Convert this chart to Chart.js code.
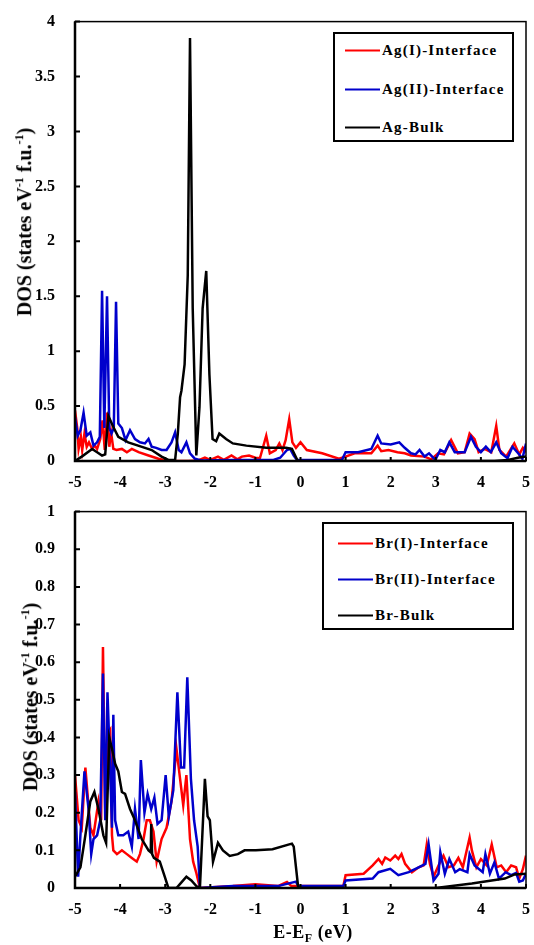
<!DOCTYPE html>
<html>
<head>
<meta charset="utf-8">
<script src="https://cdn.jsdelivr.net/npm/chart.js@4.4.1/dist/chart.umd.min.js"></script>
<style>
  body { margin: 0; background: #fff; width: 534px; height: 945px; overflow: hidden; position: relative; font-family: "Liberation Serif", "Times New Roman", serif; }
  .wrap { position: absolute; left: 0; width: 534px; }
  .ytitle { position: absolute; transform: translate(-50%, -50%) rotate(-90deg); white-space: nowrap; font-weight: bold; font-size: 20px; color: #000; }
  .ytitle sup, .xtitle sub { font-size: 12px; }
  .xtitle { position: absolute; transform: translate(-50%, -50%); white-space: nowrap; font-weight: bold; font-size: 18px; letter-spacing: 0.5px; }
  .legend { position: absolute; border: 2px solid #000; background: #fff; box-sizing: border-box; }
  .row { position: absolute; left: 0; display: flex; align-items: center; font-weight: bold; font-size: 15px; letter-spacing: 1.2px; white-space: nowrap; transform: translateY(-50%); }
  .row i { display: inline-block; width: 35px; height: 2px; margin-right: 2px; }
</style>
</head>
<body>
<div class="wrap" style="top:0;height:490px"><canvas id="agChart" width="534" height="490"></canvas></div>
<div class="wrap" style="top:490px;height:455px"><canvas id="brChart" width="534" height="455"></canvas></div>

<div class="ytitle" style="left:24px;top:222px">DOS (states eV<sup>-1</sup> f.u.<sup>-1</sup>)</div>
<div class="ytitle" style="left:30px;top:697px">DOS (states eV<sup>-1</sup> f.u.<sup>-1</sup>)</div>
<div class="xtitle" style="left:313px;top:934px">E-E<sub>F</sub> (eV)</div>

<div class="legend" style="left:333px;top:32px;width:181px;height:110px">
  <div class="row" style="top:16px;left:10px"><i style="background:#ff0000"></i>Ag(I)-Interface</div>
  <div class="row" style="top:55px;left:10px"><i style="background:#0000cc"></i>Ag(II)-Interface</div>
  <div class="row" style="top:93px;left:10px"><i style="background:#000"></i>Ag-Bulk</div>
</div>
<div class="legend" style="left:322px;top:522px;width:192px;height:108px">
  <div class="row" style="top:19px;left:14px"><i style="background:#ff0000"></i>Br(I)-Interface</div>
  <div class="row" style="top:55px;left:14px"><i style="background:#0000cc"></i>Br(II)-Interface</div>
  <div class="row" style="top:91px;left:14px"><i style="background:#000"></i>Br-Bulk</div>
</div>

<script>
// tick values
const xTicks = [-5, -4, -3, -2, -1, 0, 1, 2, 3, 4, 5];
const yTicksAg = [0, 0.5, 1, 1.5, 2, 2.5, 3, 3.5, 4];
const yTicksBr = [0, 0.1, 0.2, 0.3, 0.4, 0.5, 0.6, 0.7, 0.8, 0.9, 1];

// Ag panel
const agIE = [-5, -4.95, -4.92, -4.87, -4.84, -4.79, -4.74, -4.69, -4.62, -4.56, -4.51, -4.44, -4.39, -4.34, -4.29, -4.24, -4.2, -4.15, -4.08, -3.96, -3.85, -3.74, -3.59, -3.37, -3.15, -2.93, -2.49, -2.27, -2.12, -2.0, -1.83, -1.7, -1.53, -1.4, -1.3, -1.14, -1.0, -0.9, -0.76, -0.68, -0.55, -0.47, -0.4, -0.33, -0.25, -0.18, -0.1, 0.0, 0.14, 0.48, 0.85, 1.0, 1.2, 1.57, 1.71, 1.79, 1.95, 2.15, 2.31, 2.45, 2.6, 2.75, 2.9, 3.05, 3.18, 3.34, 3.49, 3.64, 3.75, 3.86, 3.95, 4.08, 4.23, 4.34, 4.41, 4.56, 4.74, 4.85, 4.93, 5];
const agIDos = [0.46, 0.3, 0.11, 0.22, 0.1, 0.25, 0.13, 0.17, 0.11, 0.14, 0.11, 0.2, 0.37, 0.1, 0.44, 0.13, 0.26, 0.11, 0.1, 0.11, 0.08, 0.11, 0.08, 0.05, 0.02, 0.0, 0.0, 0.005, 0.03, 0.01, 0.04, 0.01, 0.05, 0.015, 0.04, 0.05, 0.03, 0.025, 0.23, 0.07, 0.1, 0.16, 0.1, 0.19, 0.38, 0.17, 0.12, 0.17, 0.1, 0.07, 0.02, 0.04, 0.07, 0.07, 0.14, 0.09, 0.1, 0.08, 0.07, 0.05, 0.045, 0.04, 0.015, 0.07, 0.06, 0.19, 0.07, 0.08, 0.25, 0.2, 0.08, 0.11, 0.08, 0.32, 0.1, 0.04, 0.16, 0.06, 0.12, 0.08];

const agIIE = [-5, -4.94, -4.88, -4.81, -4.74, -4.66, -4.59, -4.51, -4.45, -4.4, -4.35, -4.29, -4.24, -4.19, -4.14, -4.09, -4.04, -3.96, -3.88, -3.78, -3.67, -3.56, -3.45, -3.37, -3.3, -3.2, -3.08, -2.97, -2.86, -2.78, -2.7, -2.64, -2.53, -2.45, -2.34, -2.2, -1.5, -0.6, -0.45, -0.3, -0.23, -0.15, -0.08, 0.5, 0.92, 1.0, 1.28, 1.57, 1.71, 1.79, 2.0, 2.19, 2.31, 2.45, 2.55, 2.64, 2.75, 2.85, 2.99, 3.1, 3.2, 3.3, 3.42, 3.64, 3.78, 3.89, 4.0, 4.11, 4.22, 4.34, 4.45, 4.59, 4.7, 4.85, 4.92, 5];
const agIIDos = [0.4, 0.23, 0.28, 0.44, 0.23, 0.26, 0.14, 0.17, 0.22, 1.55, 0.3, 1.5, 0.3, 0.25, 0.3, 1.45, 0.34, 0.3, 0.19, 0.28, 0.2, 0.17, 0.16, 0.2, 0.13, 0.12, 0.1, 0.1, 0.17, 0.26, 0.1, 0.08, 0.17, 0.07, 0.02, 0.005, 0.01, 0.01, 0.03, 0.1, 0.11, 0.05, 0.01, 0.01, 0.01, 0.08, 0.08, 0.11, 0.23, 0.16, 0.15, 0.17, 0.12, 0.07, 0.06, 0.1, 0.04, 0.07, 0.01, 0.1, 0.08, 0.17, 0.08, 0.08, 0.22, 0.13, 0.08, 0.13, 0.08, 0.17, 0.07, 0.025, 0.13, 0.06, 0.02, 0.16];

const agBulkE = [-5, -4.85, -4.62, -4.51, -4.4, -4.33, -4.26, -4.15, -4.04, -3.82, -3.6, -3.3, -3.08, -2.93, -2.78, -2.72, -2.67, -2.64, -2.57, -2.5, -2.45, -2.39, -2.31, -2.24, -2.17, -2.09, -2.02, -1.95, -1.87, -1.8, -1.65, -1.5, -1.2, -0.76, -0.32, -0.19, -0.06, 0.0, 4.3, 4.6, 4.82, 5];
const agBulkDos = [0, 0.04, 0.11, 0.08, 0.05, 0.06, 0.41, 0.31, 0.22, 0.17, 0.14, 0.1, 0.04, 0.01, 0.01, 0.25, 0.58, 0.64, 0.88, 1.69, 3.85, 1.39, 0.05, 0.49, 1.39, 1.73, 0.79, 0.2, 0.18, 0.25, 0.2, 0.16, 0.14, 0.12, 0.12, 0.11, 0.0, 0.0, 0.0, 0.01, 0.03, 0.04];

// Br panel
const brIE = [-5, -4.92, -4.85, -4.77, -4.66, -4.59, -4.48, -4.42, -4.38, -4.33, -4.27, -4.22, -4.18, -4.15, -4.07, -3.96, -3.85, -3.74, -3.63, -3.56, -3.48, -3.41, -3.34, -3.26, -3.19, -3.08, -2.97, -2.86, -2.75, -2.67, -2.6, -2.53, -2.45, -2.38, -2.31, -2.23, -1.5, -1.0, -0.5, -0.3, -0.2, 0.5, 0.95, 1.0, 1.4, 1.6, 1.73, 1.81, 1.88, 1.99, 2.1, 2.17, 2.24, 2.32, 2.47, 2.62, 2.73, 2.8, 2.87, 2.95, 3.06, 3.17, 3.28, 3.4, 3.5, 3.6, 3.75, 3.8, 3.9, 4.0, 4.13, 4.24, 4.35, 4.45, 4.56, 4.67, 4.78, 4.85, 4.93, 5];
const brIDos = [0.30, 0.18, 0.16, 0.32, 0.16, 0.14, 0.23, 0.18, 0.64, 0.21, 0.41, 0.42, 0.14, 0.10, 0.09, 0.10, 0.09, 0.08, 0.07, 0.09, 0.13, 0.18, 0.18, 0.15, 0.07, 0.13, 0.16, 0.23, 0.37, 0.29, 0.22, 0.30, 0.13, 0.07, 0.04, 0.0, 0.005, 0.01, 0.005, 0.016, 0.005, 0.005, 0.005, 0.034, 0.038, 0.06, 0.077, 0.064, 0.081, 0.073, 0.086, 0.077, 0.09, 0.064, 0.042, 0.055, 0.06, 0.116, 0.064, 0.03, 0.06, 0.086, 0.055, 0.06, 0.08, 0.055, 0.134, 0.1, 0.055, 0.077, 0.06, 0.116, 0.055, 0.06, 0.042, 0.06, 0.055, 0.025, 0.05, 0.086];

const brIIE = [-5, -4.93, -4.88, -4.79, -4.7, -4.64, -4.59, -4.51, -4.44, -4.38, -4.33, -4.28, -4.23, -4.18, -4.15, -4.11, -4.04, -3.93, -3.82, -3.74, -3.67, -3.59, -3.54, -3.46, -3.39, -3.31, -3.24, -3.17, -3.08, -2.99, -2.92, -2.82, -2.73, -2.65, -2.58, -2.51, -2.43, -2.36, -2.28, -2.23, -1.5, -0.5, -0.1, -0.05, 0.1, 0.95, 1.0, 1.6, 1.73, 1.99, 2.17, 2.4, 2.62, 2.77, 2.84, 2.95, 3.06, 3.1, 3.2, 3.3, 3.43, 3.53, 3.7, 3.75, 3.86, 4.04, 4.1, 4.2, 4.3, 4.4, 4.55, 4.67, 4.78, 4.85, 4.93, 5];
const brIIDos = [0.255, 0.03, 0.14, 0.31, 0.21, 0.09, 0.13, 0.14, 0.18, 0.57, 0.18, 0.52, 0.35, 0.16, 0.46, 0.18, 0.14, 0.14, 0.15, 0.11, 0.21, 0.13, 0.34, 0.20, 0.25, 0.21, 0.24, 0.17, 0.18, 0.30, 0.19, 0.26, 0.52, 0.32, 0.32, 0.56, 0.29, 0.18, 0.11, 0.0, 0.005, 0.005, 0.017, 0.005, 0.005, 0.005, 0.02, 0.025, 0.042, 0.051, 0.034, 0.042, 0.055, 0.064, 0.116, 0.02, 0.038, 0.095, 0.038, 0.077, 0.042, 0.05, 0.042, 0.09, 0.06, 0.042, 0.09, 0.038, 0.068, 0.025, 0.042, 0.034, 0.04, 0.017, 0.02, 0.038];

const brBulkE = [-5, -4.88, -4.77, -4.66, -4.57, -4.48, -4.37, -4.31, -4.24, -4.18, -4.11, -4.04, -3.96, -3.89, -3.78, -3.67, -3.52, -3.37, -3.32, -3.31, -3.29, -3.25, -3.12, -3.01, -2.93, -2.75, -2.64, -2.53, -2.42, -2.31, -2.23, -2.12, -2.06, -2.01, -1.94, -1.83, -1.72, -1.57, -1.39, -1.24, -0.99, -0.62, -0.25, -0.19, -0.15, -0.1, -0.05, 3.0, 3.8, 4.53, 4.75, 5];
const brBulkDos = [0.03, 0.055, 0.14, 0.23, 0.255, 0.21, 0.14, 0.12, 0.40, 0.37, 0.33, 0.31, 0.255, 0.25, 0.21, 0.18, 0.13, 0.10, 0.095, 0.17, 0.09, 0.08, 0.07, 0.03, 0.0, 0.0, 0.015, 0.03, 0.02, 0.005, 0.0, 0.29, 0.19, 0.18, 0.07, 0.12, 0.10, 0.085, 0.09, 0.10, 0.10, 0.103, 0.116, 0.118, 0.11, 0.055, 0.0, 0.0, 0.012, 0.025, 0.036, 0.038];

const pts = (xs, ys) => xs.map((x, i) => ({ x: x, y: ys[i] }));
const tickFont = { family: 'Liberation Serif', size: 16, weight: 'bold' };

// frame + inward tick marks
const framePlugin = {
  id: 'frame',
  afterDraw(chart) {
    const { ctx, chartArea: a, scales } = chart;
    ctx.save();
    ctx.strokeStyle = '#000';
    ctx.lineWidth = 1.5;
    ctx.strokeRect(a.left, a.top, a.right - a.left, a.bottom - a.top);
    ctx.lineWidth = 2.5;
    ctx.beginPath();
    ctx.moveTo(a.left, a.top); ctx.lineTo(a.left, a.bottom); ctx.lineTo(a.right, a.bottom);
    ctx.stroke();
    ctx.lineWidth = 2;
    ctx.beginPath();
    scales.y.ticks.forEach(t => {
      const y = scales.y.getPixelForValue(t.value);
      ctx.moveTo(a.left, y); ctx.lineTo(a.left + 5, y);
    });
    scales.x.ticks.forEach(t => {
      const x = scales.x.getPixelForValue(t.value);
      ctx.moveTo(x, a.bottom); ctx.lineTo(x, a.bottom - 4);
    });
    ctx.stroke();
    ctx.restore();
  }
};

function makeChart(id, sets, yMax, yTicks, xAxisHeight, top) {
  new Chart(document.getElementById(id), {
    type: 'line',
    data: {
      datasets: sets.map(s => ({
        label: s[0], data: s[1], borderColor: s[2], borderWidth: 2.5,
        pointRadius: 0, tension: 0, fill: false
      }))
    },
    options: {
      responsive: false,
      animation: false,
      layout: { padding: { top: top, right: 6, left: 0, bottom: 0 } },
      plugins: { legend: { display: false }, tooltip: { enabled: false } },
      scales: {
        x: {
          type: 'linear', min: -5, max: 5,
          afterBuildTicks: s => { s.ticks = xTicks.map(v => ({ value: v })); },
          afterFit: s => { s.height = xAxisHeight; },
          grid: { display: false },
          border: { display: false },
          ticks: { color: '#000', font: tickFont, padding: 4, maxRotation: 0, callback: v => String(v) }
        },
        y: {
          min: 0, max: yMax,
          afterBuildTicks: s => { s.ticks = yTicks.map(v => ({ value: v })); },
          afterFit: s => { s.width = 75; },
          grid: { display: false },
          border: { display: false },
          ticks: { color: '#000', font: tickFont, padding: 12, callback: v => String(v) }
        }
      }
    },
    plugins: [framePlugin]
  });
}

makeChart('agChart', [
  ['Ag-Bulk', pts(agBulkE, agBulkDos), '#000000'],
  ['Ag(II)-Interface', pts(agIIE, agIIDos), '#0000cc'],
  ['Ag(I)-Interface', pts(agIE, agIDos), '#ff0000']
], 4, yTicksAg, 29, 18);

makeChart('brChart', [
  ['Br-Bulk', pts(brBulkE, brBulkDos), '#000000'],
  ['Br(II)-Interface', pts(brIIE, brIIDos), '#0000cc'],
  ['Br(I)-Interface', pts(brIE, brIDos), '#ff0000']
], 1, yTicksBr, 57, 14);
</script>
</body>
</html>
